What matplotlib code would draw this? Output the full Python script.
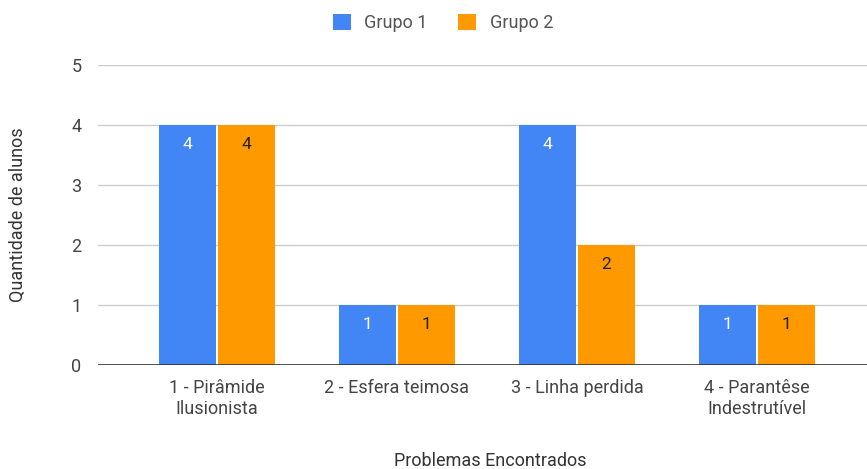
import matplotlib
matplotlib.use('Agg')
from matplotlib import pyplot as plt
import numpy as np

plt.rcParams['font.family'] = ['Roboto', 'DejaVu Sans']

categorias = ['1 - Pirâmide\nIlusionista', '2 - Esfera teimosa', '3 - Linha perdida', '4 - Parantêse\nIndestrutível']
grupo1 = [4, 1, 4, 1]
grupo2 = [4, 1, 2, 1]

azul = '#4285F4'
laranja = '#FF9900'

fig = plt.figure(figsize=(8.67, 4.69), dpi=100)
ax = fig.add_axes([0.113, 0.222, 0.887, 0.639])

x = np.arange(len(categorias))
w = 0.317
b1 = ax.bar(x - 0.164, grupo1, w, color=azul, label='Grupo 1', zorder=3)
b2 = ax.bar(x + 0.164, grupo2, w, color=laranja, label='Grupo 2', zorder=3)

# rótulos dentro das barras
for barras, cor in [(b1, 'white'), (b2, '#222222')]:
    for r in barras:
        v = r.get_height()
        ax.text(r.get_x() + r.get_width() / 2, v - 0.33, '%d' % v,
                ha='center', va='center', color=cor, fontsize=12.5, zorder=4)

ax.set_xlim(-0.661, 3.611)
ax.set_ylim(0, 5)
ax.set_yticks(range(6))
ax.grid(axis='y', color='#cccccc', linewidth=1, zorder=0)
ax.axhline(0, color='#333333', linewidth=1.2, zorder=5)
for s in ax.spines.values():
    s.set_visible(False)
ax.tick_params(axis='both', length=0, labelsize=13, labelcolor='#444444')
ax.tick_params(axis='y', pad=12)
ax.tick_params(axis='x', pad=10)
ax.set_xticks(x)
ax.set_xticklabels(categorias, linespacing=1.25)

# título do eixo x posicionado direto na figura
fig.text(0.565, 0.016, 'Problemas Encontrados', ha='center', va='center',
         fontsize=13, color='#333333')
ax.set_ylabel('Quantidade de alunos', fontsize=13, color='#333333', labelpad=32)

fig.legend(loc='upper center', bbox_to_anchor=(0.511, 1.005), ncol=2, frameon=False,
           fontsize=13, labelcolor='#555555', handlelength=1.0, handleheight=1.0,
           columnspacing=1.7, handletextpad=0.75)

fig.savefig('out.png', dpi=100)
